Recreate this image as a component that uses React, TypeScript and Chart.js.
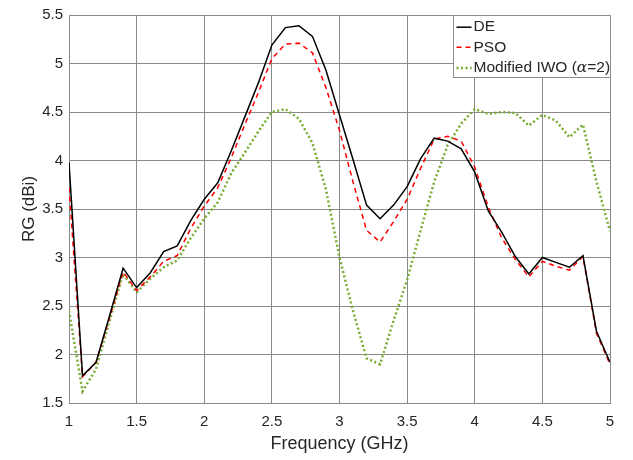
import React, { useEffect, useRef } from "react";
import { Chart, registerables } from "chart.js";

Chart.register(...registerables);

const frequencies = [1.0, 1.1, 1.2, 1.3, 1.4, 1.5, 1.6, 1.7, 1.8, 1.9, 2.0, 2.1, 2.2, 2.3, 2.4, 2.5, 2.6, 2.7, 2.8, 2.9, 3.0, 3.1, 3.2, 3.3, 3.4, 3.5, 3.6, 3.7, 3.8, 3.9, 4.0, 4.1, 4.2, 4.3, 4.4, 4.5, 4.6, 4.7, 4.8, 4.9, 5.0];

const deValues = [3.98, 1.78, 1.92, 2.4, 2.89, 2.69, 2.84, 3.06, 3.12, 3.38, 3.6, 3.77, 4.1, 4.45, 4.8, 5.19, 5.37, 5.39, 5.28, 4.93, 4.47, 4.01, 3.54, 3.4, 3.54, 3.73, 4.02, 4.23, 4.2, 4.12, 3.88, 3.48, 3.26, 3.01, 2.83, 3.0, 2.95, 2.9, 3.02, 2.24, 1.92];

const psoValues = [3.72, 1.77, 1.92, 2.38, 2.85, 2.66, 2.8, 2.96, 3.02, 3.3, 3.53, 3.72, 4.03, 4.37, 4.7, 5.05, 5.2, 5.21, 5.11, 4.75, 4.31, 3.78, 3.28, 3.16, 3.37, 3.6, 3.92, 4.22, 4.25, 4.2, 3.93, 3.52, 3.2, 2.98, 2.8, 2.96, 2.91, 2.87, 3.01, 2.22, 1.9];

const iwoValues = [2.45, 1.62, 1.85, 2.35, 2.83, 2.64, 2.78, 2.9, 2.97, 3.2, 3.4, 3.57, 3.87, 4.08, 4.3, 4.5, 4.53, 4.43, 4.18, 3.7, 3.0, 2.45, 1.96, 1.9, 2.35, 2.77, 3.28, 3.78, 4.16, 4.38, 4.53, 4.48, 4.5, 4.49, 4.36, 4.47, 4.41, 4.24, 4.37, 3.78, 3.27];

const seriesLabels = ["DE", "PSO", "Modified IWO (\u03b1=2)"];
const xTitle = "Frequency (GHz)";
const yTitle = "RG (dBi)";

const FONT = "'Liberation Sans', Arial, Helvetica, sans-serif";
const TEXT = "#262626";
const GRID = "#8a8a8a";

const toPoints = (vals: number[]) => frequencies.map((f, i) => ({ x: f, y: vals[i] }));
const fmt = (v: any) => String(Number(Number(v).toFixed(2)));

const legendPlugin = {
  id: "insideLegend",
  afterDraw(chart: any) {
    const ctx = chart.ctx;
    const area = chart.chartArea;
    const boxW = 157;
    const boxH = 62;
    const x0 = Math.round(area.right - boxW) + 0.5;
    const y0 = Math.round(area.top) + 0.5;
    ctx.save();
    ctx.fillStyle = "#ffffff";
    ctx.fillRect(x0, y0, boxW, boxH);
    ctx.strokeStyle = "#8c8c8c";
    ctx.lineWidth = 1;
    ctx.setLineDash([]);
    ctx.strokeRect(x0, y0, boxW, boxH);
    const rows = [11.7, 31.8, 52.5];
    chart.data.datasets.forEach((ds: any, i: number) => {
      const cy = y0 + rows[i];
      ctx.beginPath();
      ctx.strokeStyle = ds.borderColor;
      ctx.lineWidth = ds.borderWidth;
      ctx.setLineDash(ds.borderDash || []);
      ctx.moveTo(x0 + 3, cy);
      ctx.lineTo(x0 + 18, cy);
      ctx.stroke();
      ctx.setLineDash([]);
      ctx.fillStyle = TEXT;
      ctx.textBaseline = "middle";
      ctx.textAlign = "left";
      const label: string = ds.label;
      const idx = label.indexOf("\u03b1");
      let tx = x0 + 20;
      if (idx >= 0) {
        const before = label.slice(0, idx);
        const after = label.slice(idx + 1);
        ctx.font = `15.5px ${FONT}`;
        ctx.fillText(before, tx, cy);
        tx += ctx.measureText(before).width;
        ctx.font = `italic 15.5px 'DejaVu Serif', serif`;
        ctx.fillText("\u03b1", tx, cy);
        tx += ctx.measureText("\u03b1").width;
        ctx.font = `15.5px ${FONT}`;
        ctx.fillText(after, tx, cy);
      } else {
        ctx.font = `15.5px ${FONT}`;
        ctx.fillText(label, tx, cy);
      }
    });
    ctx.restore();
  },
};

export default function App() {
  const canvasRef = useRef<HTMLCanvasElement | null>(null);

  useEffect(() => {
    document.body.style.margin = "0";
    const canvas = canvasRef.current;
    if (!canvas) return;
    const chart = new Chart(canvas, {
      type: "line",
      data: {
        datasets: [
          {
            label: seriesLabels[0],
            data: toPoints(deValues),
            borderColor: "#000000",
            borderWidth: 1.5,
            pointRadius: 0,
            tension: 0,
            fill: false,
          },
          {
            label: seriesLabels[1],
            data: toPoints(psoValues),
            borderColor: "#ff0000",
            borderWidth: 1.5,
            borderDash: [5, 4],
            pointRadius: 0,
            tension: 0,
            fill: false,
          },
          {
            label: seriesLabels[2],
            data: toPoints(iwoValues),
            borderColor: "#77ac30",
            borderWidth: 2.5,
            borderDash: [2, 2.5],
            pointRadius: 0,
            tension: 0,
            fill: false,
          },
        ],
      },
      options: {
        responsive: false,
        animation: false,
        layout: { padding: { left: 0, right: 23, top: 12, bottom: 0 } },
        plugins: {
          legend: { display: false },
          tooltip: { enabled: false },
        },
        scales: {
          x: {
            type: "linear",
            min: 1,
            max: 5,
            ticks: {
              stepSize: 0.5,
              padding: 10,
              color: TEXT,
              font: { family: FONT, size: 15 },
              maxRotation: 0,
              callback: fmt,
            },
            grid: { color: GRID, lineWidth: 1, drawTicks: false, tickLength: 0 },
            border: { color: GRID },
            title: {
              display: true,
              text: xTitle,
              color: TEXT,
              font: { family: FONT, size: 18 },
              padding: { top: 0, bottom: 5 },
            },
            afterFit(scale: any) {
              scale.height = 57;
            },
          },
          y: {
            min: 1.5,
            max: 5.5,
            ticks: {
              stepSize: 0.5,
              padding: 6,
              color: TEXT,
              font: { family: FONT, size: 15 },
              callback: fmt,
            },
            grid: { color: GRID, lineWidth: 1, drawTicks: false, tickLength: 0 },
            border: { color: GRID },
            title: {
              display: true,
              text: yTitle,
              color: TEXT,
              font: { family: FONT, size: 17 },
              padding: { top: 19, bottom: 0 },
            },
            afterFit(scale: any) {
              scale.width = 69;
            },
          },
        },
      },
      plugins: [legendPlugin],
    });
    return () => chart.destroy();
  }, []);

  return <canvas ref={canvasRef} width={633} height={460} style={{ display: "block" }} />;
}
